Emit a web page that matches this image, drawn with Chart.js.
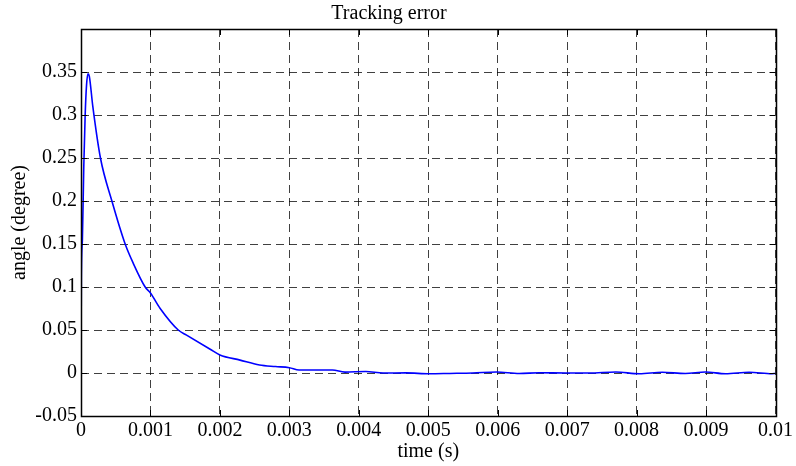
<!DOCTYPE html>
<html>
<head>
<meta charset="utf-8">
<script src="https://cdn.jsdelivr.net/npm/chart.js@4/dist/chart.umd.min.js"></script>
<style>
  html,body{margin:0;padding:0;background:#fff;}
  #wrap{width:796px;height:466px;}
</style>
</head>
<body>
<div id="wrap"><canvas id="errChart" width="796" height="466"></canvas></div>
<script>
// ── Data ──
const timeS = [0, 0.000005, 0.00002, 0.00004, 0.00006, 0.00008, 0.0001, 0.00012, 0.00017, 0.00028,
  0.000445, 0.000636, 0.00075, 0.000924, 0.001, 0.00114, 0.0014, 0.00152, 0.00186, 0.002,
  0.00229, 0.00257, 0.0028, 0.003, 0.00314, 0.0034, 0.00362, 0.0038, 0.0041, 0.00435,
  0.00468, 0.00502, 0.00531, 0.00564, 0.00598, 0.00631, 0.0066, 0.00698, 0.00732, 0.0077,
  0.00804, 0.00837, 0.0087, 0.00899, 0.00928, 0.00962, 0.00995, 0.01];
const angleDeg = [0, 0.11, 0.155, 0.24, 0.30, 0.335, 0.348, 0.345, 0.31, 0.25,
  0.2, 0.15, 0.128, 0.1, 0.093, 0.075, 0.05, 0.044, 0.0276, 0.021,
  0.015, 0.0093, 0.0075, 0.0062, 0.0035, 0.0035, 0.0035, 0.001, 0.0018, 0.0,
  0.0001, -0.0009, -0.0005, 0.0, 0.0012, -0.0005, 0.0003, 0.0, 0.0, 0.0012,
  -0.0009, 0.0008, -0.0005, 0.0011, -0.0009, 0.0008, -0.0008, -0.0005];
const xTicks = {min: 0, max: 0.01, step: 0.001};
const yTicks = {min: -0.05, max: 0.4, step: 0.05};

const serif = 'Liberation Serif, "Times New Roman", serif';

// box + inward tick marks, matlab style
const frameBox = {
  id: 'frameBox',
  afterDraw(chart){
    const {ctx, chartArea: a, scales} = chart;
    ctx.save();
    ctx.strokeStyle = '#000';
    ctx.lineWidth = 1;
    ctx.setLineDash([]);
    ctx.beginPath();
    scales.x.ticks.forEach(t => {
      const px = Math.round(scales.x.getPixelForValue(t.value)) + 0.5;
      ctx.moveTo(px, a.bottom); ctx.lineTo(px, a.bottom - 6);
      ctx.moveTo(px, a.top); ctx.lineTo(px, a.top + 6);
    });
    scales.y.ticks.forEach(t => {
      const py = Math.round(scales.y.getPixelForValue(t.value)) + 0.5;
      ctx.moveTo(a.left, py); ctx.lineTo(a.left + 6, py);
      ctx.moveTo(a.right, py); ctx.lineTo(a.right - 6, py);
    });
    ctx.stroke();
    ctx.lineWidth = 1.5;
    ctx.strokeRect(Math.round(a.left) + 0.5, Math.round(a.top) + 0.5,
      Math.round(a.right - a.left), Math.round(a.bottom - a.top));
    ctx.restore();
  }
};

new Chart(document.getElementById('errChart'), {
  type: 'line',
  data: {
    datasets: [{
      data: timeS.map((t, i) => ({x: t, y: angleDeg[i]})),
      borderColor: '#0000ff',
      borderWidth: 1.6,
      pointRadius: 0,
      cubicInterpolationMode: 'monotone',
      fill: false
    }]
  },
  options: {
    responsive: false,
    animation: false,
    layout: {padding: {left: 0, right: 18, top: 0, bottom: 0}},
    plugins: {
      legend: {display: false},
      tooltip: {enabled: false},
      title: {
        display: true,
        text: 'Tracking error',
        color: '#000',
        font: {family: serif, size: 20, weight: 'normal', lineHeight: 1.2},
        padding: {top: 2, bottom: 3}
      }
    },
    scales: {
      x: {
        type: 'linear',
        min: xTicks.min, max: xTicks.max,
        afterFit: s => { s.height = 50; },
        ticks: {
          stepSize: xTicks.step,
          color: '#000',
          padding: 3,
          maxRotation: 0,
          font: {family: serif, size: 20},
          callback: v => String(+v.toFixed(3))
        },
        grid: {color: 'rgba(0,0,0,0.75)', lineWidth: 1, drawTicks: false},
        border: {display: false, dash: [8, 5]},
        title: {
          display: true, text: 'time (s)', color: '#000',
          font: {family: serif, size: 20, lineHeight: 1.2},
          padding: {top: 0, bottom: 2}
        }
      },
      y: {
        min: yTicks.min, max: yTicks.max,
        afterFit: s => { s.width = 81; },
        ticks: {
          stepSize: yTicks.step,
          color: '#000',
          padding: 4,
          font: {family: serif, size: 20},
          callback: v => (Math.abs(v - 0.4) < 1e-9 ? '' : String(+v.toFixed(2)))
        },
        grid: {color: 'rgba(0,0,0,0.75)', lineWidth: 1, drawTicks: false},
        border: {display: false, dash: [8, 5]},
        title: {
          display: true, text: 'angle (degree)', color: '#000',
          font: {family: serif, size: 20, lineHeight: 1.2},
          padding: {top: 8, bottom: 0}
        }
      }
    }
  },
  plugins: [frameBox]
});
</script>
</body>
</html>
